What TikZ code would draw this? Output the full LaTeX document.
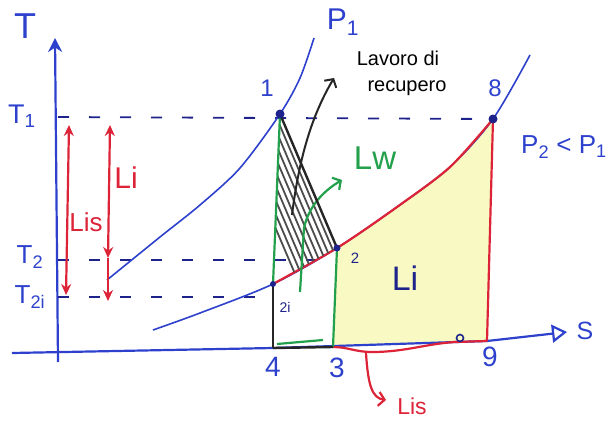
\documentclass[tikz,border=0pt]{standalone}
\usepackage{fontspec}
\setmainfont{Liberation Sans}
\usetikzlibrary{arrows.meta}
\definecolor{pblue}{RGB}{45,65,205}
\definecolor{pnavy}{RGB}{30,35,140}
\definecolor{pred}{RGB}{220,35,55}
\definecolor{pgreen}{RGB}{35,160,75}
\definecolor{pyellow}{RGB}{249,250,195}
\tikzset{
  axisline/.style={pblue, line width=2.2pt},
  isobar/.style={pblue, line width=1.6pt},
  dashT/.style={pnavy, line width=1.8pt, dash pattern=on 11pt off 20pt},
  redline/.style={pred, line width=2.2pt},
  grn/.style={pgreen, line width=2.2pt},
  blk/.style={black!85, line width=2.4pt},
  hatchline/.style={black!70, line width=1.8pt},
  ptdot/.style={circle, fill=pnavy, inner sep=0pt, minimum size=#1},
  ptdot/.default=9pt,
  lbl/.style={font=\fontsize{24}{26}\selectfont, text=pblue, inner sep=1pt},
  redlbl/.style={font=\fontsize{26}{28}\selectfont, text=pred, inner sep=1pt},
  redarrow/.style={pred, line width=2.2pt, {Stealth[length=11pt,width=10pt]}-{Stealth[length=11pt,width=10pt]}},
  barb/.style={-{Straight Barb[length=6pt,width=14pt]}},
}
\begin{document}
\begin{tikzpicture}[x=1pt,y=-1pt]
\useasboundingbox (0,0) rectangle (610,428);
% key points
\coordinate (Tbot) at (58,362);
\coordinate (Ttop) at (55,38);
\coordinate (Sleft) at (12,353);
\coordinate (Send) at (567,332);
\coordinate (p1) at (280,114);
\coordinate (p8) at (493,119);
\coordinate (p2) at (337,248);
\coordinate (p2i) at (273,284);
\coordinate (p4) at (273,348);
\coordinate (p3) at (333,347);
\coordinate (p9) at (487,341);
\coordinate (T1a) at (58,117);
\coordinate (T2a) at (58,260);
\coordinate (T2e) at (325,260);
\coordinate (T2ia) at (58,297);
\coordinate (T2ie) at (268,297);

% yellow area
\fill[pyellow] (p3) -- plot[smooth] coordinates {(337,248) (397,207) (450,167) (493,119)} -- (p9) -- cycle;

% axes
\draw[axisline, -{Stealth[length=14pt,width=14pt]}] (Tbot) -- (Ttop);
\draw[axisline, -{Triangle[open,length=15pt,width=18pt]}] (Sleft) -- (p4) -- (p9) -- (Send);

% dashed temperature levels
\draw[dashT] (T1a) -- (p8);
\draw[dashT] (T2a) -- (T2e);
\draw[dashT] (T2ia) -- (T2ie);

% isobars
\draw[isobar] plot[smooth] coordinates {(107,280) (160,237) (200,205) (240,168) (280,114) (300,78) (314,38)};
\draw[isobar] plot[smooth] coordinates {(153,330) (200,313) (273,284) (337,248) (397,207) (450,167) (493,119) (530,55)};

% red outline of Li
\draw[redline] plot[smooth] coordinates {(273,284) (337,248) (397,207) (450,167) (493,119)};
\draw[redline] (p8) -- (p9);
\draw[redline] (p9) -- (455,342) .. controls (425,344) and (405,352) .. (372,352) .. controls (355,352) and (348,347) .. (p3);

% hatched triangle
\begin{scope}
  \clip (p1) -- (p2) -- (p2i) -- cycle;
  \foreach \k in {5,11,17,23,29,35,41,47,53} {
    \draw[hatchline] (280-\k-40,114-94) -- ++(120,282);
  }
\end{scope}

% green lines
\draw[grn] (p1) -- (p2i);
\draw[grn] (p2) -- (p3);
\draw[grn] (277,344) -- (323,340);
\draw[grn, barb] (300,292) -- (304,228) .. controls (309,205) and (325,190) .. (342,180);

% black lines
\draw[blk] (p1) -- (p2);
\draw[blk] (p2i) -- (p4);
\draw[blk] (p4) -- (p3);
\draw[black!85, line width=2pt, barb] (292,215) .. controls (300,150) and (315,110) .. (334,78);

% red arrows on the left
\coordinate (LisTop) at (69,125);
\coordinate (LisBot) at (66,295);
\coordinate (LiTop) at (110,125);
\coordinate (LiMid) at (108,258);
\coordinate (LiBot) at (108,301);
\draw[redarrow] (LisTop) -- (LisBot);
\draw[redarrow] (LiTop) -- (LiMid);
\draw[pred, line width=2.2pt, -{Stealth[length=11pt,width=10pt]}] (LiMid) -- (LiBot);

% bottom red arrow
\coordinate (LbS) at (366,353);
\coordinate (LbE) at (386,400);
\draw[pred, line width=2.2pt, barb] (LbS) .. controls (368,385) and (372,398) .. (LbE);

% points
\node[ptdot] (n1) at (p1) {};
\node[ptdot] (n8) at (p8) {};
\node[ptdot=7pt] (n2) at (p2) {};
\node[ptdot=6pt] (n2i) at (p2i) {};
\draw[pnavy, line width=1.6pt] (460,338) circle (3.5pt);

% labels
\node[lbl, font=\fontsize{36}{38}\selectfont] (Tlab) at (25,26) {T};
\node[lbl, font=\fontsize{27}{29}\selectfont] (T1lab) at (22,116) {T\textsubscript{1}};
\node[lbl, font=\fontsize{26}{28}\selectfont] (T2lab) at (30,257) {T\textsubscript{2}};
\node[lbl, font=\fontsize{26}{28}\selectfont] (T2ilab) at (30,297) {T\textsubscript{2i}};
\node[lbl, font=\fontsize{30}{32}\selectfont] (P1lab) at (343,22) {P\textsubscript{1}};
\node[lbl, font=\fontsize{26}{28}\selectfont] (P2lab) at (564,147) {P\textsubscript{2} < P\textsubscript{1}};
\node[lbl] (l1) at (267,88) {1};
\node[lbl] (l8) at (495,88) {8};
\node[lbl, font=\fontsize{15}{17}\selectfont, text=pnavy] (l2) at (355,258) {2};
\node[lbl, font=\fontsize{14}{16}\selectfont, text=pnavy] (l2i) at (285,307) {2i};
\node[lbl, font=\fontsize{28}{30}\selectfont] (l4) at (273,367) {4};
\node[lbl, font=\fontsize{28}{30}\selectfont] (l3) at (337,368) {3};
\node[lbl, font=\fontsize{28}{30}\selectfont] (l9) at (490,357) {9};
\node[lbl, font=\fontsize{25}{27}\selectfont] (Slab) at (585,331) {S};
\node[font=\fontsize{20}{22}\selectfont, inner sep=1pt] (lav1) at (398,58) {Lavoro di};
\node[font=\fontsize{20}{22}\selectfont, inner sep=1pt] (lav2) at (407,88) {recupero};
\node[font=\fontsize{33}{35}\selectfont, text=pgreen, inner sep=1pt] (Lw) at (375,158) {Lw};
\node[font=\fontsize{34}{36}\selectfont, text=pnavy, inner sep=1pt] (Limid) at (405,278) {Li};
\node[redlbl, font=\fontsize{30}{32}\selectfont] (Lired) at (126,178) {Li};
\node[redlbl] (Lisred) at (86,222) {Lis};
\node[redlbl, font=\fontsize{23}{25}\selectfont] (Lisbot) at (412,406) {Lis};
\end{tikzpicture}
\end{document}
